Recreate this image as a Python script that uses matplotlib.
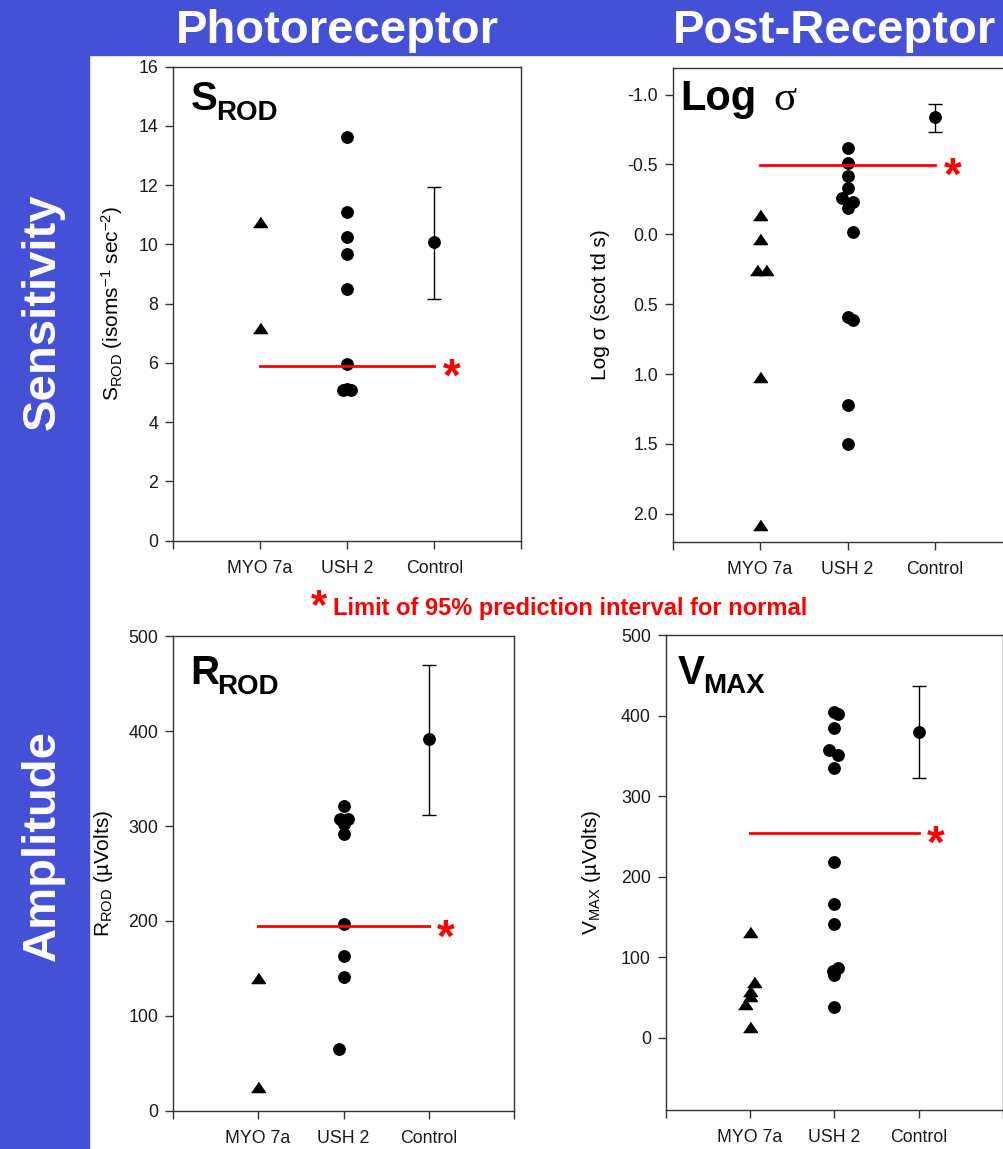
import matplotlib
matplotlib.use('Agg')
import matplotlib.pyplot as plt
from matplotlib.patches import Rectangle
from matplotlib.ticker import FormatStrFormatter

plt.rcParams['font.family'] = ['Liberation Sans', 'DejaVu Sans']
plt.rcParams['mathtext.fontset'] = 'custom'
plt.rcParams['mathtext.rm'] = 'Liberation Sans'
plt.rcParams['mathtext.it'] = 'Liberation Sans:italic'
plt.rcParams['mathtext.bf'] = 'Liberation Sans:bold'
plt.rcParams['axes.unicode_minus'] = False

BLUE = '#4450D6'
RED = '#FF0000'
SPINE = '#333333'
TRIANGLE = [(-1, -0.73), (1, -0.73), (0, 0.73)]

categories = ['MYO 7a', 'USH 2', 'Control']

# S_ROD (photoreceptor sensitivity)
srod_myo = [10.75, 7.17]
srod_myo_dx = [0, 0]
srod_ush = [13.63, 11.1, 10.25, 9.68, 8.48, 5.96, 5.09, 5.11, 5.1]
srod_ush_dx = [0, 0, 0, 0, 0, 0, -0.045, 0, 0.045]
srod_ctrl = [10.09, 8.17, 11.93]  # mean, low, high
srod_limit = 5.9

# log sigma (post-receptor sensitivity)
logs_myo = [-0.14, 0.035, 0.257, 0.257, 1.02, 2.08]
logs_myo_dx = [0, 0, -0.04, 0.07, 0, 0]
logs_ush = [-0.62, -0.51, -0.42, -0.33, -0.26, -0.23, -0.19, -0.02, 0.59, 0.61, 1.22, 1.5]
logs_ush_dx = [0, 0, 0, 0, -0.06, 0.06, 0, 0.06, 0, 0.06, 0, 0]
logs_ctrl = [-0.837, -0.936, -0.734]
logs_limit = -0.495

# R_ROD (photoreceptor amplitude)
rrod_myo = [140.4, 25.6]
rrod_myo_dx = [0, 0]
rrod_ush = [321.6, 307.4, 307.4, 302, 291.4, 196.5, 162.8, 141.1, 64.7]
rrod_ush_dx = [0, -0.047, 0.05, 0, 0, 0, 0, 0, -0.055]
rrod_ctrl = [391.3, 311.7, 469.8]
rrod_limit = 194.4

# V_MAX (post-receptor amplitude)
vmax_myo = [130.9, 69.2, 57.5, 51.2, 41.9, 12.6]
vmax_myo_dx = [0, 0.043, 0, 0, -0.06, 0]
vmax_ush = [404.4, 401.8, 384.2, 357.4, 350.7, 334.3, 218.5, 165.7, 141.4, 86.8, 83, 77.2, 37.8]
vmax_ush_dx = [0, 0.047, 0, -0.06, 0.047, 0, 0, 0, 0, 0.04, -0.02, 0, 0]
vmax_ctrl = [379.6, 322.6, 436.2]
vmax_limit = 254.6


def draw_panel(ax, myo, myo_dx, ush, ush_dx, ctrl, limit):
    ax.plot([1 + d for d in myo_dx], myo, linestyle='none', marker=TRIANGLE,
            ms=10, color='black', zorder=2)
    ax.plot([2 + d for d in ush_dx], ush, linestyle='none', marker='o',
            ms=8.2, color='black', zorder=2)
    mean_value, low, high = ctrl
    ax.errorbar([3], [mean_value], yerr=[[mean_value - low], [high - mean_value]],
                fmt='o', ms=8.2, color='black', elinewidth=1, capsize=5, capthick=1)
    ax.plot([1, 3], [limit, limit], color=RED, lw=2, zorder=3)
    ax.annotate('*', xy=(3.2, limit), xytext=(0, -18), textcoords='offset points',
                ha='center', va='baseline', color=RED, fontsize=33, fontweight='bold')

    ax.set_xlim(0, 4)
    ax.set_xticks(range(5))
    ax.set_xticklabels([''] + categories + [''])
    ax.tick_params(direction='out', length=5.5, width=1, color=SPINE,
                   labelsize=12.8, labelcolor='#1a1a1a', pad=5)
    ax.tick_params(axis='x', pad=8.5)
    for spine in ax.spines.values():
        spine.set_color(SPINE)
        spine.set_linewidth(1)


def panel_title(ax, x, y, main, sub):
    t = ax.text(x, y, main, transform=ax.transAxes, fontsize=29,
                fontweight='bold', va='baseline')
    ax.annotate(sub, xy=(1, 0), xycoords=t, xytext=(-1, -1), textcoords='offset points',
                fontsize=20, fontweight='bold', va='baseline')


fig = plt.figure(figsize=(10.04, 11.49), dpi=100)
fig.add_artist(Rectangle((0, 0), 89 / 1004, 1, transform=fig.transFigure,
                         color=BLUE, zorder=0))
fig.add_artist(Rectangle((0, 1 - 55 / 1149), 1, 55 / 1149, transform=fig.transFigure,
                         color=BLUE, zorder=0))

fig.text(337 / 1004, 1 - 43.3 / 1149, 'Photoreceptor', ha='center', va='baseline',
         color='white', fontsize=34, fontweight='bold')
fig.text(835 / 1004, 1 - 43.3 / 1149, 'Post-Receptor', ha='center', va='baseline',
         color='white', fontsize=34, fontweight='bold')
fig.text(55 / 1004, 1 - 311.5 / 1149, 'Sensitivity', ha='center', va='baseline',
         rotation=90, rotation_mode='anchor', color='white', fontsize=34, fontweight='bold')
fig.text(55 / 1004, 1 - 845.5 / 1149, 'Amplitude', ha='center', va='baseline',
         rotation=90, rotation_mode='anchor', color='white', fontsize=34, fontweight='bold')

# top left: S_ROD
ax1 = fig.add_axes([0.1719, 0.5294, 0.3475, 0.4127])
draw_panel(ax1, srod_myo, srod_myo_dx, srod_ush, srod_ush_dx, srod_ctrl, srod_limit)
ax1.set_ylim(0, 16)
ax1.set_yticks(range(0, 17, 2))
ax1.set_ylabel(r'S$_{\mathrm{ROD}}$ (isoms$^{\mathrm{-1}}$ sec$^{\mathrm{-2}}$)', fontsize=15)
ax1.yaxis.set_label_coords(-0.136, 0.5)
panel_title(ax1, 0.052, 0.908, 'S', 'ROD')

# top right: log sigma
ax2 = fig.add_axes([0.6699, 0.5286, 0.3486, 0.4124])
draw_panel(ax2, logs_myo, logs_myo_dx, logs_ush, logs_ush_dx, logs_ctrl, logs_limit)
ax2.set_ylim(2.2, -1.192)
ax2.set_yticks([-1.0, -0.5, 0.0, 0.5, 1.0, 1.5, 2.0])
ax2.yaxis.set_major_formatter(FormatStrFormatter('%.1f'))
ax2.set_ylabel('Log σ (scot td s)', fontsize=15)
ax2.yaxis.set_label_coords(-0.18, 0.5)
ax2.text(0.022, 0.91, 'Log', transform=ax2.transAxes, fontsize=30,
         fontweight='bold', va='baseline')
ax2.text(0.287, 0.91, 'σ', transform=ax2.transAxes, fontsize=31,
         family='Liberation Serif', va='baseline')

# bottom left: R_ROD
ax3 = fig.add_axes([0.1720, 0.0332, 0.3403, 0.4131])
draw_panel(ax3, rrod_myo, rrod_myo_dx, rrod_ush, rrod_ush_dx, rrod_ctrl, rrod_limit)
ax3.set_ylim(0, 500)
ax3.set_yticks(range(0, 501, 100))
ax3.set_ylabel(r'R$_{\mathrm{ROD}}$ (µVolts)', fontsize=15)
ax3.yaxis.set_label_coords(-0.169, 0.5)
panel_title(ax3, 0.05, 0.899, 'R', 'ROD')

# bottom right: V_MAX
ax4 = fig.add_axes([0.6629, 0.0339, 0.3362, 0.4134])
draw_panel(ax4, vmax_myo, vmax_myo_dx, vmax_ush, vmax_ush_dx, vmax_ctrl, vmax_limit)
ax4.set_ylim(-90, 500)
ax4.set_yticks(range(0, 501, 100))
ax4.set_ylabel(r'V$_{\mathrm{MAX}}$ (µVolts)', fontsize=15)
ax4.yaxis.set_label_coords(-0.186, 0.5)
panel_title(ax4, 0.035, 0.897, 'V', 'MAX')

# footnote between the rows
fig.text(319 / 1004, 1 - 618 / 1149, '*', ha='center', va='baseline',
         color=RED, fontsize=30, fontweight='bold')
fig.text(333 / 1004, 1 - 614.6 / 1149, 'Limit of 95% prediction interval for normal',
         ha='left', va='baseline', color=RED, fontsize=17, fontweight='bold')

fig.savefig('out.png', dpi=100)
